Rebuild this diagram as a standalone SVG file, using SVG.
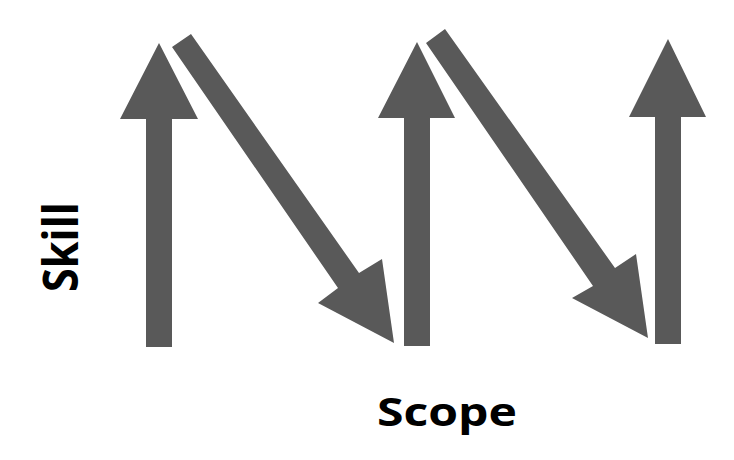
<svg xmlns="http://www.w3.org/2000/svg" width="734" height="460" viewBox="0 0 734 460">
<style>
.arrow{fill:#595959;stroke:none}
.label{font-family:"Open Sans","Liberation Sans",sans-serif;font-weight:bold;fill:#000}
</style>
<rect width="734" height="460" fill="#fff"/>
<g id="connectors">
<polygon id="up1" class="arrow" points="146,347 146,119 120,119 159,43 198,119 172,119 172,347"/>
<polygon id="down1" class="arrow" points="191,34 359,273 382,259 394,343 318,303 338,288 172,47"/>
<polygon id="up2" class="arrow" points="404,346 404,118 378,118 417,42 455,118 430,118 430,346"/>
<polygon id="down2" class="arrow" points="445,29 615,268 636,254 648,338 572,298 593,286 426,43"/>
<polygon id="up3" class="arrow" points="655,344 655,117 629,117 668,39 706,117 681,117 681,344"/>
</g>
<g id="label-skill">
<text class="label" transform="translate(78,292) rotate(-90)" x="0" y="0" font-size="49" textLength="90" lengthAdjust="spacingAndGlyphs">Skill</text>
</g>
<g id="label-scope">
<text class="label" x="377" y="426" font-size="39" textLength="140" lengthAdjust="spacingAndGlyphs">Scope</text>
</g>
</svg>
